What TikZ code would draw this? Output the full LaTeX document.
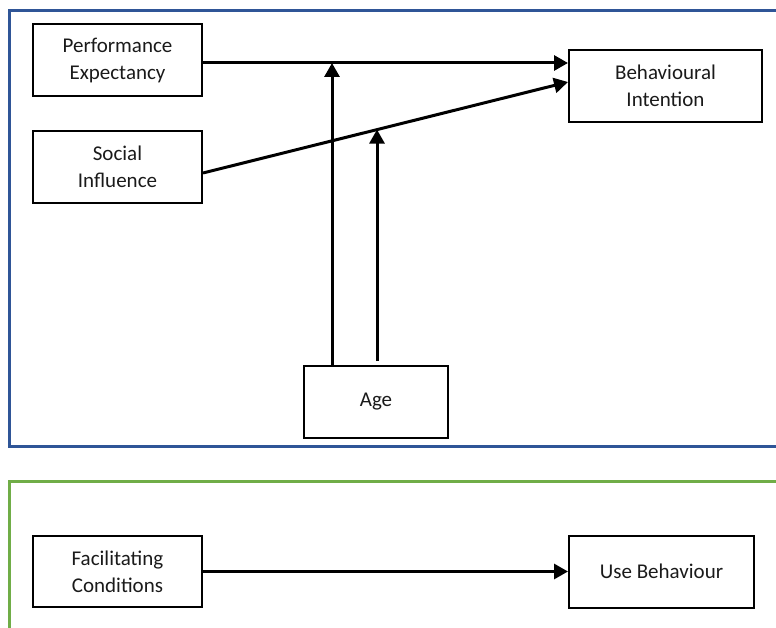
\documentclass[tikz,border=0pt]{standalone}
\usepackage{fontspec}
\setmainfont{Carlito}
\usetikzlibrary{arrows.meta}
\definecolor{frameblue}{HTML}{2F5597}
\definecolor{framegreen}{HTML}{70AD47}
\definecolor{inkgray}{HTML}{1A1A1A}
\begin{document}
\begin{tikzpicture}[x=1pt,y=-1pt,
  box/.style={draw=black,line width=2pt,rectangle,align=center,inner sep=0pt,
    font=\fontsize{21}{27}\selectfont,text=inkgray},
  link/.style={line width=3pt,-{Triangle[length=14pt,width=15pt]}},
  frame/.style={line width=3pt}]
\useasboundingbox (0,0) rectangle (776,628);
\clip (0,0) rectangle (776,628);

% group frames
\draw[frame,frameblue] (800,11) -- (9,11) -- (9,446) -- (800,446);
\draw[frame,framegreen] (800,481) -- (9,481) -- (9,650);

% constructs
\node[box,minimum width=169pt,minimum height=72pt] (PE) at (117.5,60) {Performance\\Expectancy};
\node[box,minimum width=169pt,minimum height=72pt] (SI) at (117.5,167) {Social\\Influence};
\node[box,minimum width=193pt,minimum height=72pt] (BI) at (665.5,86) {Behavioural\\Intention};
\node[box,minimum width=144pt,minimum height=72pt] (AGE) at (376,402) {Age};
\node[box,minimum width=169pt,minimum height=71pt] (FC) at (117.5,571.5) {Facilitating\\Conditions};
\node[box,minimum width=185pt,minimum height=72pt] (UB) at (661.5,571.5) {Use Behaviour};

% direct effects
\coordinate (pe1) at ([yshift=-3pt]PE.east);
\coordinate (bi1) at ([yshift=23pt]BI.west);
\coordinate (si1) at ([yshift=-6pt]SI.east);
\coordinate (bi2) at ([yshift=4pt]BI.west);
\draw[link] (pe1) -- (bi1);
\draw[link] (si1) -- (bi2) coordinate[pos=0.477] (mSI);
\draw[link] (FC) -- (UB);

% moderation by age
\coordinate (a1) at ([xshift=-44pt]AGE.north);
\coordinate (a2) at ([xshift=1pt,yshift=4pt]AGE.north);
\draw[link] (a1) -- (a1 |- pe1);
\draw[link] (a2) -- (a2 |- mSI);
\end{tikzpicture}
\end{document}
